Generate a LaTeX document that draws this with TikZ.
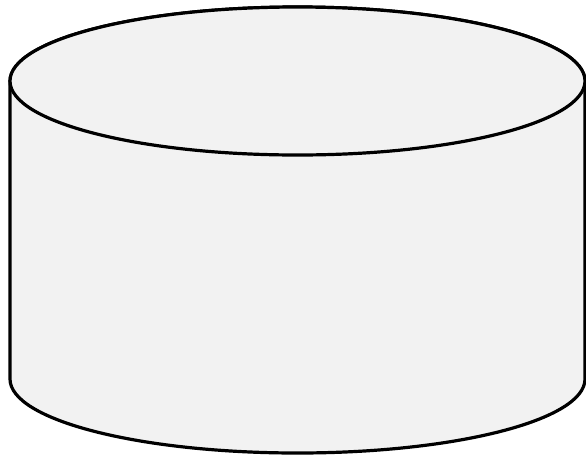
\documentclass[tikz,border=0pt]{standalone}
\begin{document}
\begin{tikzpicture}[x=1pt,y=-1pt,
  cyl/.style={draw=black,line width=3.2pt,fill={rgb,255:red,242;green,242;blue,242},line join=round}]
\useasboundingbox (0,0) rectangle (586,456);
\coordinate (tl) at (10,81);
\coordinate (br) at (585,379);
\draw[cyl] (tl) -- (10,379) arc[start angle=180,end angle=0,x radius=287.5,y radius=74] -- (585,81) arc[start angle=0,end angle=-180,x radius=287.5,y radius=74] -- cycle;
\draw[cyl] (297.5,81) ellipse[x radius=287.5,y radius=74];
\end{tikzpicture}
\end{document}
